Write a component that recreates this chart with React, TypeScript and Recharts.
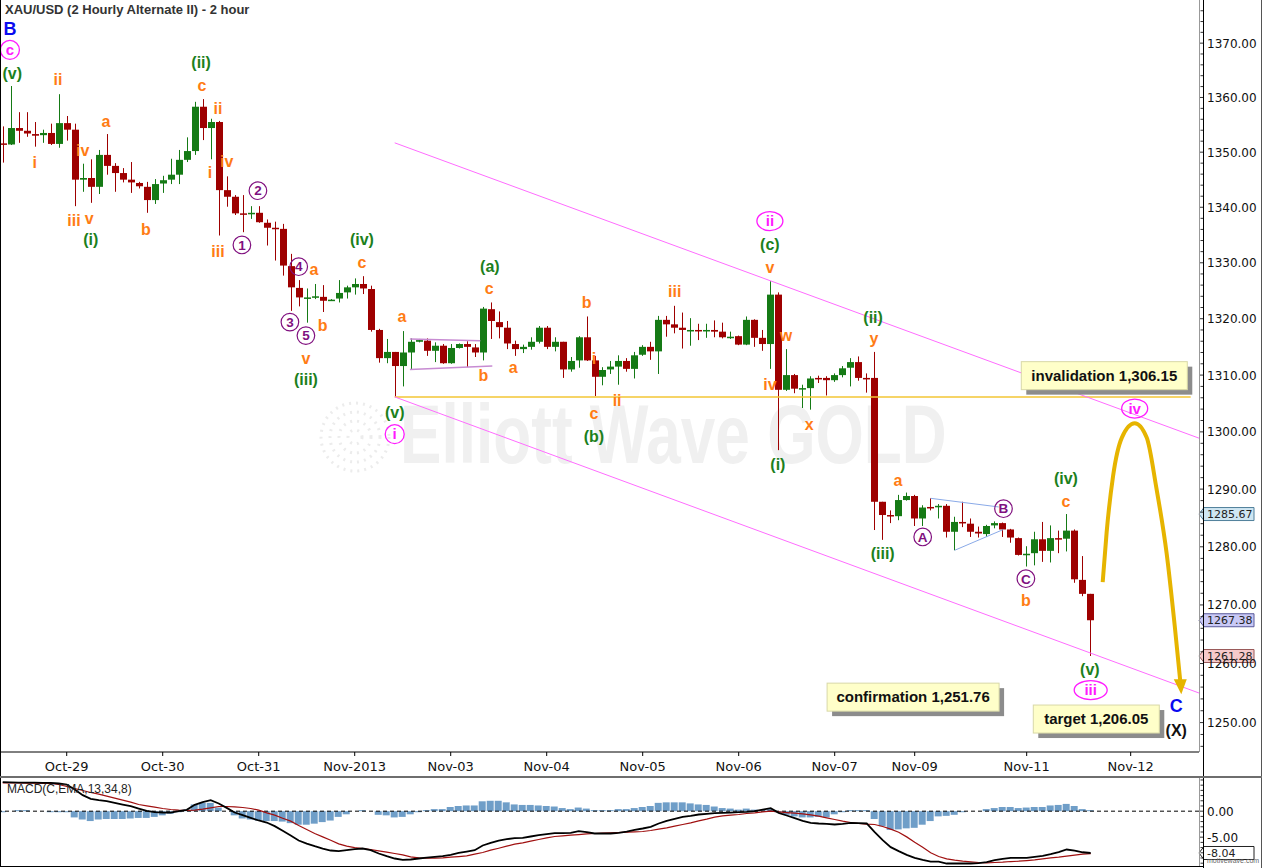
import React from 'react';
import { ComposedChart, Bar, Line, XAxis, YAxis, ReferenceLine, ReferenceDot } from 'recharts';

// XAU/USD 2-hour bars (log price scale)
const OPEN = [
  1351.6, 1351.4, 1354.4, 1353.9, 1353.3, 1353.1, 1353.5, 1351.5, 1355.3, 1354.1,
  1345.0, 1345.3, 1343.7, 1349.5, 1347.5, 1346.2, 1345.0, 1344.4, 1343.7, 1341.3,
  1344.3, 1345.0, 1345.9, 1348.6, 1350.2, 1358.3, 1354.4, 1355.5, 1343.1, 1341.9,
  1338.9, 1338.9, 1339.0, 1337.2, 1336.3, 1336.1, 1329.4, 1325.5, 1323.7, 1323.8,
  1323.9, 1323.2, 1323.6, 1324.7, 1325.6, 1326.2, 1325.3, 1318.0, 1313.0, 1314.1,
  1311.6, 1314.0, 1315.9, 1316.1, 1314.3, 1315.2, 1312.1, 1314.8, 1315.5, 1314.9,
  1314.0, 1321.7, 1319.4, 1318.4, 1315.5, 1314.6, 1315.0, 1315.9, 1318.4, 1315.0,
  1315.9, 1311.0, 1312.6, 1316.7, 1312.6, 1309.7, 1311.0, 1311.5, 1312.5, 1311.1,
  1313.6, 1315.0, 1314.2, 1319.8, 1319.0, 1318.4, 1317.9, 1318.0, 1317.8, 1318.0,
  1317.7, 1316.7, 1316.9, 1315.4, 1319.8, 1316.6, 1315.5, 1324.3, 1307.4, 1310.0,
  1307.6, 1307.7, 1309.5, 1309.5, 1309.1, 1310.0, 1311.3, 1312.3, 1309.5, 1309.5,
  1287.8, 1285.5, 1285.3, 1288.1, 1288.8, 1284.9, 1286.9, 1287.0, 1287.1, 1282.6,
  1284.3, 1284.0, 1282.6, 1282.2, 1283.7, 1284.1, 1283.0, 1281.5, 1278.6, 1278.9,
  1281.3, 1279.3, 1281.5, 1281.4, 1282.8, 1274.3, 1271.9,
];
const HIGH = [
  1354.7, 1362.1, 1357.3, 1357.3, 1355.5, 1354.1, 1355.2, 1360.6, 1356.6, 1355.2,
  1347.9, 1348.7, 1350.4, 1353.3, 1348.0, 1347.1, 1348.2, 1344.6, 1344.6, 1345.1,
  1345.7, 1348.8, 1350.4, 1352.7, 1359.2, 1359.7, 1356.1, 1355.7, 1345.6, 1342.2,
  1342.2, 1340.2, 1340.2, 1337.8, 1337.4, 1337.0, 1331.6, 1326.9, 1325.4, 1326.2,
  1326.0, 1323.5, 1326.9, 1325.9, 1327.2, 1327.6, 1325.9, 1318.2, 1316.4, 1314.1,
  1317.8, 1316.5, 1316.4, 1316.5, 1315.8, 1315.5, 1315.5, 1315.6, 1316.0, 1315.5,
  1322.1, 1322.9, 1321.3, 1319.6, 1316.1, 1315.4, 1316.7, 1318.7, 1318.7, 1316.7,
  1315.9, 1313.2, 1316.9, 1320.4, 1313.4, 1311.4, 1312.5, 1313.5, 1313.0, 1314.1,
  1315.3, 1315.9, 1320.5, 1320.5, 1322.3, 1321.1, 1320.1, 1319.1, 1319.1, 1319.7,
  1319.3, 1317.7, 1317.0, 1320.4, 1319.9, 1318.0, 1326.7, 1324.7, 1314.6, 1310.2,
  1308.3, 1309.8, 1309.9, 1309.8, 1310.3, 1311.6, 1313.0, 1313.3, 1310.3, 1314.1,
  1287.8, 1286.3, 1289.0, 1289.4, 1289.0, 1287.2, 1288.4, 1287.4, 1287.4, 1285.2,
  1287.8, 1284.9, 1283.5, 1283.8, 1284.4, 1284.2, 1283.1, 1281.6, 1280.1, 1282.6,
  1284.3, 1283.7, 1282.8, 1285.67, 1283.0, 1278.4, 1271.9,
];
const LOW = [
  1348.1, 1351.3, 1351.7, 1352.8, 1351.0, 1351.7, 1351.3, 1350.8, 1352.1, 1340.2,
  1342.8, 1340.8, 1342.4, 1345.9, 1342.8, 1344.5, 1342.6, 1343.4, 1339.0, 1340.6,
  1342.6, 1344.2, 1344.2, 1348.2, 1349.5, 1352.2, 1348.7, 1334.9, 1340.1, 1338.6,
  1335.5, 1337.9, 1337.2, 1333.1, 1330.4, 1327.7, 1321.4, 1322.2, 1319.3, 1323.5,
  1321.2, 1323.2, 1322.9, 1323.6, 1324.3, 1324.4, 1317.7, 1312.2, 1312.1, 1306.15,
  1308.0, 1311.0, 1315.8, 1313.4, 1312.3, 1312.0, 1312.0, 1314.7, 1311.4, 1313.2,
  1312.6, 1316.4, 1316.5, 1314.6, 1313.4, 1313.9, 1314.5, 1315.6, 1314.6, 1314.2,
  1309.5, 1310.6, 1311.3, 1312.5, 1306.3, 1308.2, 1310.2, 1308.3, 1310.6, 1309.4,
  1313.4, 1312.7, 1310.2, 1316.8, 1317.4, 1314.7, 1315.2, 1316.2, 1316.6, 1316.7,
  1316.5, 1316.4, 1315.3, 1315.3, 1315.0, 1314.3, 1311.1, 1296.8, 1307.2, 1306.8,
  1304.2, 1303.9, 1308.6, 1306.4, 1308.8, 1309.6, 1308.0, 1309.0, 1306.9, 1282.9,
  1281.2, 1284.1, 1284.6, 1288.0, 1283.6, 1283.6, 1286.3, 1284.9, 1281.6, 1279.4,
  1283.4, 1281.7, 1281.6, 1281.7, 1283.2, 1281.7, 1280.7, 1278.5, 1276.6, 1276.8,
  1277.4, 1277.3, 1278.9, 1279.2, 1273.8, 1271.5, 1261.28,
];
const CLOSE = [
  1351.4, 1354.4, 1353.9, 1353.4, 1353.0, 1353.5, 1351.5, 1355.3, 1354.1, 1345.0,
  1345.3, 1343.7, 1349.5, 1347.5, 1346.2, 1345.0, 1344.5, 1343.8, 1341.3, 1344.2,
  1344.9, 1345.9, 1348.6, 1350.2, 1358.3, 1354.4, 1355.5, 1343.1, 1341.9, 1338.9,
  1338.7, 1339.0, 1337.3, 1336.3, 1336.2, 1329.5, 1325.6, 1323.8, 1323.8, 1324.0,
  1323.2, 1323.4, 1324.6, 1325.6, 1326.2, 1325.4, 1318.0, 1313.0, 1314.1, 1311.6,
  1314.0, 1315.9, 1316.2, 1314.3, 1315.2, 1312.1, 1314.8, 1315.5, 1315.0, 1314.0,
  1321.8, 1319.6, 1318.5, 1315.6, 1314.6, 1315.0, 1315.9, 1318.4, 1315.0, 1315.9,
  1311.0, 1312.5, 1316.7, 1312.6, 1309.7, 1310.9, 1311.5, 1312.5, 1311.1, 1313.5,
  1315.0, 1314.2, 1319.8, 1319.0, 1318.4, 1318.0, 1318.0, 1317.8, 1318.0, 1317.7,
  1316.7, 1316.8, 1315.4, 1319.8, 1316.6, 1315.5, 1324.3, 1307.4, 1310.0, 1307.6,
  1307.7, 1309.4, 1309.4, 1309.1, 1310.0, 1311.2, 1312.3, 1309.5, 1309.4, 1287.8,
  1285.5, 1285.4, 1288.1, 1288.8, 1284.9, 1286.8, 1286.8, 1287.1, 1282.6, 1284.3,
  1284.1, 1282.6, 1282.3, 1283.6, 1284.1, 1283.0, 1281.6, 1278.6, 1278.8, 1281.3,
  1279.3, 1281.5, 1281.4, 1282.8, 1274.4, 1271.9, 1267.38,
];

// MACD(C,EMA,13,34,8)
const MACD = [
  5.58, 5.54, 5.51, 5.51, 5.48, 5.45, 5.45, 5.32, 5.13, 4.17,
  3.08, 2.37, 2.12, 1.92, 1.60, 1.28, 0.96, 0.51, 0.06, -0.19,
  -0.26, -0.26, 0.0, 0.26, 1.22, 1.73, 2.12, 1.47, 0.64, -0.26,
  -0.77, -1.28, -1.79, -2.18, -2.88, -3.78, -4.68, -5.64, -6.22, -6.73,
  -7.18, -7.56, -7.69, -7.50, -7.31, -7.18, -7.50, -8.14, -8.65, -9.10,
  -9.36, -9.29, -9.10, -8.91, -8.78, -8.65, -8.40, -8.01, -7.76, -7.50,
  -6.60, -6.09, -5.64, -5.38, -5.19, -5.13, -4.87, -4.62, -4.42, -4.23,
  -4.23, -4.17, -3.85, -4.04, -4.29, -4.29, -4.29, -4.17, -3.91, -3.59,
  -3.33, -3.01, -2.37, -1.86, -1.47, -1.09, -0.90, -0.64, -0.51, -0.38,
  -0.32, -0.26, -0.19, -0.13, 0.0, 0.32, 0.58, -0.32, -0.83, -1.35,
  -1.86, -2.24, -2.37, -2.44, -2.56, -2.44, -2.24, -2.31, -2.37, -4.04,
  -5.58, -6.92, -7.69, -8.40, -8.97, -9.36, -9.68, -9.68, -10.06, -10.06,
  -10.06, -10.06, -10.0, -9.81, -9.42, -9.17, -8.97, -8.97, -8.97, -8.78,
  -8.59, -8.27, -7.88, -7.37, -7.6, -7.9, -8.04,
];
const SIGNAL = [
  5.45, 5.45, 5.42, 5.38, 5.38, 5.35, 5.32, 5.13, 4.74, 4.36,
  3.97, 3.59, 3.27, 2.88, 2.50, 2.12, 1.73, 1.28, 1.03, 0.77,
  0.51, 0.32, 0.19, 0.13, 0.19, 0.38, 0.64, 0.90, 0.90, 0.83,
  0.71, 0.51, 0.19, -0.32, -0.77, -1.35, -1.92, -2.76, -3.53, -4.29,
  -4.94, -5.58, -6.28, -6.73, -6.99, -7.18, -7.37, -7.63, -7.88, -8.14,
  -8.40, -8.78, -8.97, -9.04, -9.04, -8.97, -8.85, -8.72, -8.59, -8.27,
  -7.95, -7.50, -7.12, -6.73, -6.35, -6.09, -5.77, -5.45, -5.13, -4.87,
  -4.74, -4.62, -4.49, -4.36, -4.29, -4.23, -4.17, -4.10, -4.04, -3.97,
  -3.91, -3.72, -3.46, -3.21, -2.88, -2.56, -2.24, -1.86, -1.54, -1.15,
  -0.90, -0.77, -0.64, -0.45, -0.32, -0.13, 0.0, -0.13, -0.26, -0.38,
  -0.51, -0.71, -0.96, -1.28, -1.60, -1.92, -2.18, -2.37, -2.50, -2.56,
  -2.95, -3.46, -4.04, -4.94, -5.96, -6.92, -8.01, -8.72, -9.17, -9.42,
  -9.62, -9.74, -9.87, -9.94, -9.87, -9.81, -9.68, -9.62, -9.49, -9.36,
  -9.17, -8.97, -8.85, -8.65, -8.46, -8.27, -8.15,
];
const HIST = [
  -0.2, 0, 0.2, 0.2, 0, 0, -0.2, -0.2, -0.2, -1.2,
  -1.6, -1.9, -1.6, -1.5, -1.5, -1.5, -1.4, -1.3, -1.3, -1.1,
  -0.8, -0.5, -0.2, 0.3, 1.3, 1.6, 1.6, 0.7, 0, -0.8,
  -1.4, -1.6, -1.8, -1.9, -1.9, -2.0, -2.3, -2.6, -2.6, -2.4,
  -2.1, -1.8, -1.1, -0.6, 0, 0.2, 0, -0.7, -0.8, -1.2,
  -1.1, -0.6, -0.2, 0.2, 0.4, 0.4, 0.8, 1.0, 1.1, 1.1,
  1.9, 2.0, 2.0, 1.7, 1.3, 1.2, 1.2, 1.1, 1.0, 0.9,
  0.6, 0.4, 0.7, 0.5, 0.2, 0.2, 0.2, 0.4, 0.4, 0.6,
  0.8, 1.0, 1.6, 1.7, 1.7, 1.7, 1.5, 1.3, 1.2, 0.9,
  0.6, 0.5, 0.3, 0.5, 0.3, 0.2, 0.4, -0.2, -0.7, -1.0,
  -1.2, -1.2, -1.1, -1.2, -0.6, -0.2, 0.2, 0.2, 0.2, -1.5,
  -2.9, -3.6, -3.5, -3.3, -3.2, -2.6, -1.9, -1.0, -0.9, -0.7,
  -0.2, 0, 0, 0.4, 0.6, 0.8, 0.8, 0.6, 0.7, 0.8,
  0.8, 1.1, 1.2, 1.4, 1.0, 0.4, 0.2,
];

const DAY_TICKS = [8, 20, 32, 44, 56, 68, 80, 92, 104, 114, 128, 141];
const DAY_LABELS = ['Oct-29', 'Oct-30', 'Oct-31', 'Nov-2013', 'Nov-03', 'Nov-04', 'Nov-05', 'Nov-06', 'Nov-07', 'Nov-09', 'Nov-11', 'Nov-12'];
const PRICE_LABELS = [1250, 1260, 1270, 1280, 1290, 1300, 1310, 1320, 1330, 1340, 1350, 1360, 1370];
const MACD_LABELS = [0, -5];

// projected wave iv / v path
const PROJ_J = [137.5, 138.0, 138.8, 139.9, 141.5, 143.0, 144.2, 145.5, 146.5, 147.2];
const PROJ_P = [1273.9, 1282.6, 1292.3, 1299.0, 1301.5, 1299.0, 1290.3, 1278.8, 1266.5, 1257.0];

// wave labels: bar index, price, text, style
const WAVES = [
  { j: 0.9, p: 1372.8, t: 'B', k: 'blue' },
  { j: 0.9, p: 1368.75, t: 'c', k: 'magenta' },
  { j: 1.2, p: 1364.5, t: '(v)', k: 'green' },
  { j: 6.9, p: 1363.4, t: 'ii', k: 'orange' },
  { j: 4.0, p: 1348.2, t: 'i', k: 'orange' },
  { j: 10.0, p: 1350.3, t: 'iv', k: 'orange' },
  { j: 8.9, p: 1337.6, t: 'iii', k: 'orange' },
  { j: 10.8, p: 1338.0, t: 'v', k: 'orange' },
  { j: 11.0, p: 1334.3, t: '(i)', k: 'green' },
  { j: 12.9, p: 1355.7, t: 'a', k: 'orange' },
  { j: 17.9, p: 1336.1, t: 'b', k: 'orange' },
  { j: 24.8, p: 1366.5, t: '(ii)', k: 'green' },
  { j: 24.9, p: 1362.3, t: 'c', k: 'orange' },
  { j: 26.9, p: 1358.1, t: 'ii', k: 'orange' },
  { j: 25.9, p: 1346.4, t: 'i', k: 'orange' },
  { j: 28.0, p: 1348.4, t: 'iv', k: 'orange' },
  { j: 26.9, p: 1332.1, t: 'iii', k: 'orange' },
  { j: 31.9, p: 1343.0, t: '2', k: 'purple' },
  { j: 29.9, p: 1333.2, t: '1', k: 'purple' },
  { j: 37.0, p: 1329.3, t: '4', k: 'purple' },
  { j: 38.9, p: 1328.9, t: 'a', k: 'orange' },
  { j: 35.9, p: 1319.4, t: '3', k: 'purple' },
  { j: 37.9, p: 1317.0, t: '5', k: 'purple' },
  { j: 40.0, p: 1318.9, t: 'b', k: 'orange' },
  { j: 37.9, p: 1313.0, t: 'v', k: 'orange' },
  { j: 37.9, p: 1309.2, t: '(iii)', k: 'green' },
  { j: 44.9, p: 1334.2, t: '(iv)', k: 'green' },
  { j: 44.9, p: 1330.1, t: 'c', k: 'orange' },
  { j: 49.9, p: 1320.4, t: 'a', k: 'orange' },
  { j: 49.0, p: 1303.4, t: '(v)', k: 'green' },
  { j: 49.0, p: 1299.6, t: 'i', k: 'magenta' },
  { j: 60.1, p: 1309.9, t: 'b', k: 'orange' },
  { j: 60.9, p: 1329.3, t: '(a)', k: 'green' },
  { j: 60.8, p: 1325.4, t: 'c', k: 'orange' },
  { j: 63.8, p: 1311.3, t: 'a', k: 'orange' },
  { j: 73.0, p: 1322.9, t: 'b', k: 'orange' },
  { j: 73.9, p: 1313.0, t: 'i', k: 'orange' },
  { j: 73.9, p: 1303.3, t: 'c', k: 'orange' },
  { j: 73.9, p: 1299.2, t: '(b)', k: 'green' },
  { j: 76.8, p: 1305.6, t: 'ii', k: 'orange' },
  { j: 84.0, p: 1324.9, t: 'iii', k: 'orange' },
  { j: 95.9, p: 1337.5, t: 'ii', k: 'magenta' },
  { j: 95.9, p: 1333.4, t: '(c)', k: 'green' },
  { j: 95.9, p: 1329.2, t: 'v', k: 'orange' },
  { j: 97.9, p: 1317.0, t: 'w', k: 'orange' },
  { j: 95.9, p: 1308.4, t: 'iv', k: 'orange' },
  { j: 96.9, p: 1294.4, t: '(i)', k: 'green' },
  { j: 100.8, p: 1301.4, t: 'x', k: 'orange' },
  { j: 108.8, p: 1320.2, t: '(ii)', k: 'green' },
  { j: 108.9, p: 1316.6, t: 'y', k: 'orange' },
  { j: 110.0, p: 1278.9, t: '(iii)', k: 'green' },
  { j: 111.9, p: 1291.6, t: 'a', k: 'orange' },
  { j: 115.0, p: 1281.7, t: 'A', k: 'purple' },
  { j: 125.1, p: 1286.6, t: 'B', k: 'purple' },
  { j: 127.9, p: 1274.5, t: 'C', k: 'purple' },
  { j: 127.9, p: 1270.8, t: 'b', k: 'orange' },
  { j: 132.9, p: 1291.9, t: '(iv)', k: 'green' },
  { j: 132.9, p: 1287.9, t: 'c', k: 'orange' },
  { j: 135.9, p: 1259.1, t: '(v)', k: 'green' },
  { j: 136.0, p: 1255.5, t: 'iii', k: 'magenta' },
  { j: 141.5, p: 1304.1, t: 'iv', k: 'magenta' },
  { j: 146.7, p: 1252.8, t: 'C', k: 'blue' },
  { j: 146.7, p: 1248.7, t: '(X)', k: 'black' },
];

const NOTES = [
  { j: 137.7, p: 1309.9, t: 'invalidation 1,306.15', w: 166 },
  { j: 113.8, p: 1254.3, t: 'confirmation 1,251.76', w: 172 },
  { j: 136.7, p: 1250.6, t: 'target 1,206.05', w: 126 },
];

const PRICE_TAGS = [
  { p: 1285.67, fill: '#cfe6f2', stroke: '#4f7f9a' },
  { p: 1267.38, fill: '#c9c9f6', stroke: '#5a5a9a' },
  { p: 1261.28, fill: '#f6caca', stroke: '#9a5a5a' },
];

const W = 1262;
const AXIS_W = 63;
const X_DOMAIN: [number, number] = [-0.34, 149.54];
const Y_DOMAIN: [number, number] = [1245.05, 1378.0];
const MACD_DOMAIN: [number, number] = [-10.54, 6.38];

const GREEN = '#157a15';
const RED = '#9e0000';
const ORANGE = '#ff7c14';
const WGREEN = '#1c801c';
const MAGENTA = '#ff1aff';
const PURPLE = '#80107f';
const PINK = '#ff6cff';
const GOLD = '#e6b400';
const FONT = '"Liberation Sans", Arial, sans-serif';
const AXFONT = '"DejaVu Sans", sans-serif';

const candles = OPEN.map((o, i) => ({ j: i, o, h: HIGH[i], l: LOW[i], c: CLOSE[i], range: [LOW[i], HIGH[i]] }));
const macdRows = MACD.map((m, i) => ({ j: i, macd: m, signal: SIGNAL[i], hist: HIST[i] }));
const projection = PROJ_J.map((j, i) => ({ j, p: PROJ_P[i] }));
const priceTicks: number[] = [];
for (let v = 1246; v <= 1376; v += 2) priceTicks.push(v);
const macdTicks: number[] = [];
for (let v = -10; v <= 6; v += 1) macdTicks.push(v);

function Candle(props: any) {
  const { x, y, width, height, payload } = props;
  if (!payload || x == null || y == null) return null;
  const { o, h, l, c } = payload;
  const top = Math.min(y, y + height);
  const hgt = Math.abs(height);
  const lh = Math.log(h);
  const span = lh - Math.log(l);
  const py = (v: number) => (span > 0 ? top + ((lh - Math.log(v)) / span) * hgt : top);
  const col = c >= o ? GREEN : RED;
  const mid = Math.round(x + width / 2) + 0.5;
  const bTop = py(Math.max(o, c));
  const bBot = py(Math.min(o, c));
  return (
    <g>
      <line x1={mid} x2={mid} y1={top} y2={top + hgt} stroke={col} strokeWidth={1} />
      <rect x={mid - 3.5} y={bTop} width={7} height={Math.max(bBot - bTop, 1.5)} fill={col} />
    </g>
  );
}

function PriceTick(props: any) {
  const { x, y, payload } = props;
  const v = payload.value;
  const major = PRICE_LABELS.includes(v);
  return (
    <g>
      <line x1={x + (major ? 0 : 1.5)} x2={x + 4} y1={y} y2={y} stroke="#333" />
      {major && (
        <text x={x + 8} y={y + 4.5} fontSize={12} fontFamily={AXFONT} fill="#111">{v.toFixed(2)}</text>
      )}
    </g>
  );
}

function MacdTick(props: any) {
  const { x, y, payload } = props;
  const v = payload.value;
  const major = MACD_LABELS.includes(v);
  return (
    <g>
      <line x1={x + (major ? 0 : 1.5)} x2={x + 4} y1={y} y2={y} stroke="#333" />
      {major && (
        <text x={x + 8} y={y + 4.5} fontSize={12} fontFamily={AXFONT} fill="#111">{v.toFixed(2)}</text>
      )}
    </g>
  );
}

function WaveMark({ cx, cy, t, k }: { cx: number; cy: number; t: string; k: string }) {
  if (k === 'magenta') {
    const rx = t.length > 1 ? 6 + t.length * 3.5 : 9.5;
    return (
      <g>
        <ellipse cx={cx} cy={cy} rx={rx} ry={9.5} fill="none" stroke={MAGENTA} strokeWidth={1.3} />
        <text x={cx} y={cy + 5.2} textAnchor="middle" fontSize={15} fontWeight="bold" fontFamily={FONT} fill={MAGENTA}>{t}</text>
      </g>
    );
  }
  if (k === 'purple') {
    return (
      <g>
        <circle cx={cx} cy={cy} r={8.8} fill="none" stroke={PURPLE} strokeWidth={1.2} />
        <text x={cx} y={cy + 4.8} textAnchor="middle" fontSize={13.5} fontWeight="bold" fontFamily={FONT} fill={PURPLE}>{t}</text>
      </g>
    );
  }
  const col = k === 'orange' ? ORANGE : k === 'green' ? WGREEN : k === 'blue' ? '#0a0af0' : '#111';
  const size = k === 'blue' ? 18 : 16;
  return (
    <text x={cx} y={cy + size * 0.36} textAnchor="middle" fontSize={size} fontWeight="bold" fontFamily={FONT} fill={col}>{t}</text>
  );
}

function NoteBox({ cx, cy, t, w }: { cx: number; cy: number; t: string; w: number }) {
  const h = 28;
  return (
    <g>
      <rect x={cx - w / 2 + 5} y={cy - h / 2 + 5} width={w} height={h} fill="#8c8c8c" />
      <rect x={cx - w / 2} y={cy - h / 2} width={w} height={h} fill="#ffffc9" stroke="#d8d8a8" />
      <text x={cx} y={cy + 5} textAnchor="middle" fontSize={15} fontWeight="bold" fontFamily={FONT} fill="#111">{t}</text>
    </g>
  );
}

function Tag({ cx, cy, text, fill, stroke }: any) {
  const x0 = cx;
  return (
    <g>
      <polygon
        points={`${x0},${cy} ${x0 + 5},${cy - 6.5} ${x0 + 55},${cy - 6.5} ${x0 + 55},${cy + 6.5} ${x0 + 5},${cy + 6.5}`}
        fill={fill}
        stroke={stroke}
        strokeWidth={1}
      />
      <text x={x0 + 8} y={cy + 4} fontSize={11} fontFamily={AXFONT} fill="#222">{text}</text>
    </g>
  );
}

export default function App() {
  return (
    <div style={{ position: 'relative', width: W, height: 868, background: '#fff', overflow: 'hidden' }}>
      <style>{'body{margin:0}'}</style>
      {/* watermark */}
      <svg width={W} height={868} style={{ position: 'absolute', left: 0, top: 0 }}>
        <g fill="none" stroke="#ececec" strokeWidth={3} strokeDasharray="2 5">
          <circle cx={355} cy={437} r={34} />
          <circle cx={355} cy={437} r={25} />
          <circle cx={355} cy={437} r={16} />
          <circle cx={355} cy={437} r={7} />
        </g>
        <text
          x={0}
          y={0}
          transform="translate(400 463) scale(0.74 1)"
          fontSize={84}
          fontWeight="bold"
          fontFamily={FONT}
          fill="#f0f0f0"
        >
          Elliott Wave GOLD
        </text>
      </svg>

      <div style={{ position: 'absolute', left: 0, top: 0 }}>
        <ComposedChart width={W} height={776} data={candles} margin={{ top: 0, right: 0, bottom: 0, left: 0 }}>
          <XAxis
            dataKey="j"
            type="number"
            domain={X_DOMAIN}
            allowDataOverflow
            ticks={DAY_TICKS}
            interval={0}
            tickFormatter={(v: number) => DAY_LABELS[DAY_TICKS.indexOf(v)] ?? ''}
            height={24}
            axisLine={{ stroke: '#000' }}
            tickLine={{ stroke: '#000' }}
            tickSize={4}
            tickMargin={6}
            tick={{ fontSize: 13, fontFamily: AXFONT, fill: '#111' }}
          />
          <YAxis
            orientation="right"
            width={AXIS_W}
            type="number"
            scale="log"
            domain={Y_DOMAIN}
            allowDataOverflow
            ticks={priceTicks}
            interval={0}
            axisLine={false}
            tickLine={false}
            tickSize={0}
            tickMargin={0}
            tick={<PriceTick />}
          />
          <ReferenceLine segment={[{ x: 49.0, y: 1306.15 }, { x: 148.5, y: 1306.15 }]} stroke="#f3c634" strokeWidth={1.5} ifOverflow="visible" />
          <Bar dataKey="range" barSize={7} shape={<Candle />} isAnimationActive={false} />
          <ReferenceLine segment={[{ x: 49.0, y: 1351.7 }, { x: 149.54, y: 1298.9 }]} stroke={PINK} strokeWidth={1} ifOverflow="visible" />
          <ReferenceLine segment={[{ x: 49.0, y: 1306.15 }, { x: 149.54, y: 1255.0 }]} stroke={PINK} strokeWidth={1} ifOverflow="visible" />
          <ReferenceLine segment={[{ x: 50.9, y: 1316.4 }, { x: 59.7, y: 1316.1 }]} stroke="#c78bd2" strokeWidth={1.5} ifOverflow="visible" />
          <ReferenceLine segment={[{ x: 50.9, y: 1311.0 }, { x: 61.2, y: 1311.6 }]} stroke="#c78bd2" strokeWidth={1.5} ifOverflow="visible" />
          <ReferenceLine segment={[{ x: 116.0, y: 1288.4 }, { x: 124.5, y: 1286.9 }]} stroke="#8aaae8" strokeWidth={1} ifOverflow="visible" />
          <ReferenceLine segment={[{ x: 119.0, y: 1279.4 }, { x: 125.1, y: 1283.0 }]} stroke="#8aaae8" strokeWidth={1} ifOverflow="visible" />
          <Line
            data={projection}
            dataKey="p"
            type="monotone"
            stroke={GOLD}
            strokeWidth={4}
            isAnimationActive={false}
            dot={(p: any) =>
              p.index === PROJ_J.length - 1 ? (
                <polygon
                  key="arrow"
                  points={`${p.cx - 6.5},${p.cy - 2} ${p.cx + 6.5},${p.cy - 2} ${p.cx + 1},${p.cy + 13}`}
                  fill={GOLD}
                />
              ) : (
                <g key={`d${p.index}`} />
              )
            }
          />
          {WAVES.map((w, i) => (
            <ReferenceDot
              key={`w${i}`}
              x={w.j}
              y={w.p}
              r={0}
              ifOverflow="visible"
              shape={(p: any) => <WaveMark cx={p.cx} cy={p.cy} t={w.t} k={w.k} />}
            />
          ))}
          {NOTES.map((n, i) => (
            <ReferenceDot
              key={`n${i}`}
              x={n.j}
              y={n.p}
              r={0}
              ifOverflow="visible"
              shape={(p: any) => <NoteBox cx={p.cx} cy={p.cy} t={n.t} w={n.w} />}
            />
          ))}
          {PRICE_TAGS.map((g, i) => (
            <ReferenceDot
              key={`g${i}`}
              x={X_DOMAIN[1]}
              y={g.p}
              r={0}
              ifOverflow="visible"
              shape={(p: any) => <Tag cx={p.cx} cy={p.cy} text={g.p.toFixed(2)} fill={g.fill} stroke={g.stroke} />}
            />
          ))}
        </ComposedChart>
      </div>

      <div style={{ position: 'absolute', left: 0, top: 778 }}>
        <ComposedChart width={W} height={88} data={macdRows} margin={{ top: 0, right: 0, bottom: 0, left: 0 }}>
          <XAxis dataKey="j" type="number" domain={X_DOMAIN} allowDataOverflow hide />
          <YAxis
            orientation="right"
            width={AXIS_W}
            type="number"
            domain={MACD_DOMAIN}
            allowDataOverflow
            ticks={macdTicks}
            interval={0}
            axisLine={false}
            tickLine={false}
            tickSize={0}
            tickMargin={0}
            tick={<MacdTick />}
          />
          <Bar dataKey="hist" barSize={7} fill="#6f9ec8" isAnimationActive={false} />
          <ReferenceLine y={0} stroke="#000" strokeDasharray="4 3" />
          <Line dataKey="signal" type="linear" stroke="#a01010" strokeWidth={1.2} dot={false} isAnimationActive={false} />
          <Line dataKey="macd" type="linear" stroke="#000" strokeWidth={1.8} dot={false} isAnimationActive={false} />
          <ReferenceDot
            x={X_DOMAIN[1]}
            y={MACD[MACD.length - 1]}
            r={0}
            ifOverflow="visible"
            shape={(p: any) => <Tag cx={p.cx} cy={p.cy} text={MACD[MACD.length - 1].toFixed(2)} fill="#fff" stroke="#222" />}
          />
        </ComposedChart>
      </div>

      {/* frame */}
      <div style={{ position: 'absolute', left: 0, top: 0, width: 1, height: 866, background: '#000' }} />
      <div style={{ position: 'absolute', left: 1199, top: 0, width: 1, height: 752, background: '#999' }} />
      <div style={{ position: 'absolute', left: 1199, top: 778, width: 1, height: 88, background: '#999' }} />
      <div style={{ position: 'absolute', left: 1203, top: 0, width: 1, height: 868, background: '#000' }} />
      <div style={{ position: 'absolute', left: 1261, top: 0, width: 1, height: 868, background: '#555' }} />
      <div style={{ position: 'absolute', left: 0, top: 776, width: W, height: 2, background: '#6e6e6e' }} />
      <div style={{ position: 'absolute', left: 0, top: 866, width: 1203, height: 1, background: '#000' }} />

      <div style={{ position: 'absolute', left: 5, top: 2, fontFamily: FONT, fontWeight: 'bold', fontSize: 13, color: '#333' }}>
        XAU/USD (2 Hourly Alternate II) - 2 hour
      </div>
      <div style={{ position: 'absolute', left: 7, top: 782, fontFamily: FONT, fontSize: 12, color: '#222' }}>
        MACD(C,EMA,13,34,8)
      </div>
      <div style={{ position: 'absolute', left: 1207, top: 857, fontFamily: FONT, fontSize: 7, lineHeight: '8px', color: '#666' }}>
        motivewave.com
      </div>
    </div>
  );
}
